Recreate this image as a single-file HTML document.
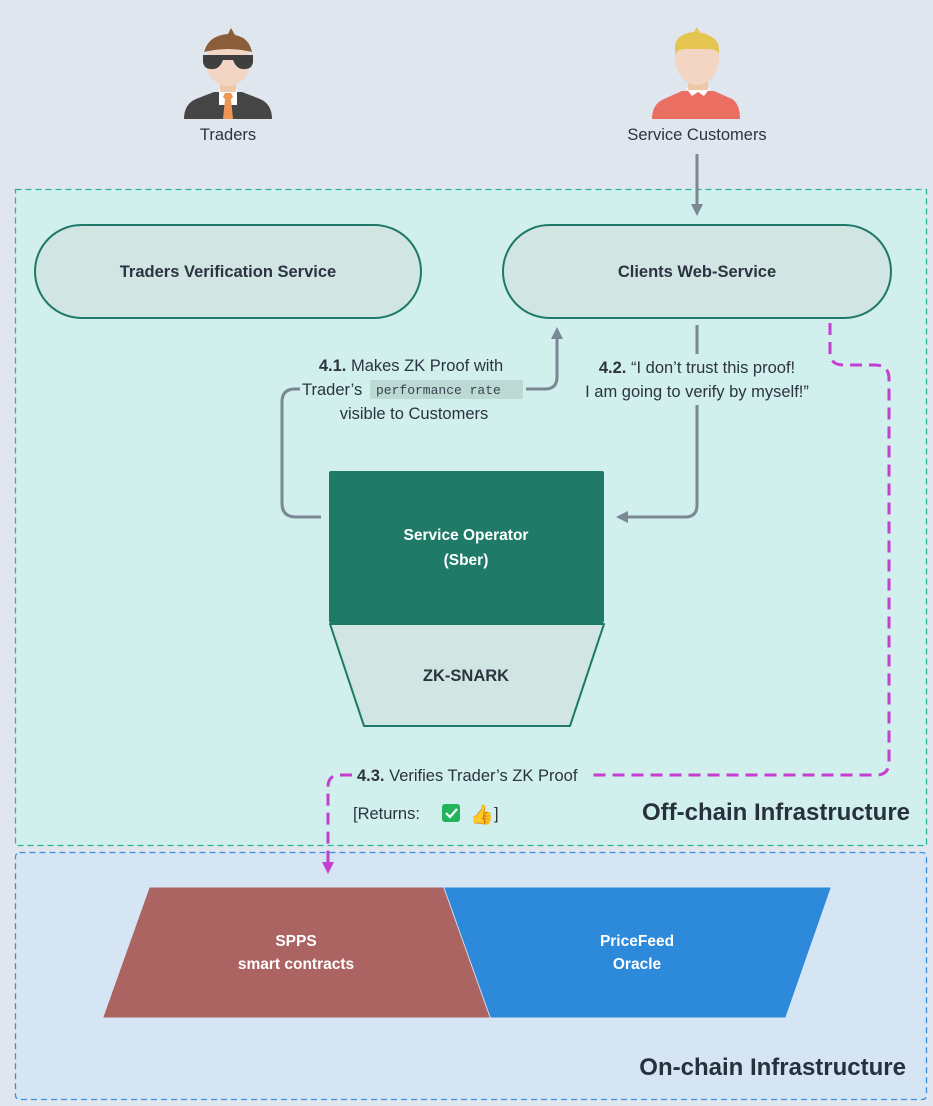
<!DOCTYPE html>
<html><head><meta charset="utf-8"><style>
html,body{margin:0;padding:0;background:#dfe6ee;}
svg{display:block;font-family:"Liberation Sans","DejaVu Sans",sans-serif;}
</style></head><body>
<svg width="933" height="1106" viewBox="0 0 933 1106" xmlns="http://www.w3.org/2000/svg">
<defs>
<marker id="ag" markerWidth="4" markerHeight="4" refX="2" refY="2" orient="auto" markerUnits="strokeWidth"><path d="M0,0 L4,2 L0,4 z" fill="#7a8794"/></marker>
<marker id="ap" markerWidth="4" markerHeight="4" refX="2" refY="2" orient="auto" markerUnits="strokeWidth"><path d="M0,0 L4,2 L0,4 z" fill="#c43fd1"/></marker>
</defs>
<rect width="933" height="1106" fill="#dfe6ee"/>
<rect x="15.5" y="189.5" width="911" height="656" fill="#d1efec" stroke="#2bb39a" stroke-width="1.3" stroke-dasharray="6,4"/>
<rect x="15.5" y="852.5" width="911" height="247" rx="4" fill="#d5e5f4" stroke="#3b8de0" stroke-width="1.3" stroke-dasharray="6,4"/>

<!-- Traders person -->
<g>
<path d="M184,119 Q184,104 196,99 L214,92 L242,92 L260,99 Q272,104 272,119 Z" fill="#454545"/>
<rect x="219" y="89" width="18" height="16" fill="#fff"/>
<path d="M225,93 L231,93 L233,97 L231,99 L233,119 L223,119 L225,99 L223,97 Z" fill="#ef9656"/>
<rect x="220" y="80" width="16" height="12" fill="#efc8a8"/>
<ellipse cx="228" cy="62" rx="22" ry="24" fill="#f2d6c3"/>
<path d="M203,62 Q203,36 228,34 L231,28 L235,35 Q253,38 253,62 L252,52 Q228,46 204,52 Z" fill="#8a5e3a"/>
<path d="M203,55 L253,55 L253,62 Q252,70 242,69 Q236,68 233,60 L223,60 Q220,68 214,69 Q204,70 203,62 Z" fill="#3f3f3f"/>
</g>
<text x="228" y="140" font-size="16.5" fill="#2b3440" text-anchor="middle">Traders</text>

<!-- Customer person -->
<g>
<path d="M652,119 Q652,104 664,99 L682,91 L714,91 L732,99 Q740,104 740,119 Z" fill="#ea6e62"/>
<path d="M686,88 L710,88 L704,96 L698,92 L692,96 Z" fill="#fff"/>
<rect x="688" y="80" width="20" height="10" fill="#efc8a8"/>
<ellipse cx="697" cy="58" rx="22" ry="27" fill="#f2d6c3"/>
<path d="M675,62 L675,46 Q676,34 694,32 L697,27 L700,33 Q718,36 719,48 L719,62 L719,54 Q717,49 708,49 L686,49 Q676,49 675,56 Z" fill="#e3c54f"/>
</g>
<text x="697" y="140" font-size="16.5" fill="#2b3440" text-anchor="middle">Service Customers</text>

<line x1="697" y1="154" x2="697" y2="210" stroke="#7a8794" stroke-width="3" marker-end="url(#ag)"/>

<rect x="35" y="225" width="386" height="93" rx="46.5" fill="#d1e5e2" stroke="#1e7a66" stroke-width="2"/>
<text x="228" y="277" font-size="16.5" font-weight="bold" fill="#2b3440" text-anchor="middle">Traders Verification Service</text>
<rect x="503" y="225" width="388" height="93" rx="46.5" fill="#d1e5e2" stroke="#1e7a66" stroke-width="2"/>
<text x="697" y="277" font-size="16.5" font-weight="bold" fill="#2b3440" text-anchor="middle">Clients Web-Service</text>

<path d="M321,517 L296,517 Q282,517 282,503 L282,402 Q282,389 295,389 L300,389" fill="none" stroke="#7a8794" stroke-width="3"/>
<path d="M526,389 L545,389 Q557,389 557,377 L557,333" fill="none" stroke="#7a8794" stroke-width="3" marker-end="url(#ag)"/>
<text x="411" y="371" font-size="16.5" fill="#2b3440" text-anchor="middle"><tspan font-weight="bold">4.1.</tspan> Makes ZK Proof with</text>
<text x="302" y="395" font-size="16.5" fill="#2b3440">Trader’s</text>
<rect x="370" y="380" width="153" height="19" rx="2" fill="#bcd9d4"/>
<text x="376" y="394" font-size="13" fill="#3a4450" font-family="Liberation Mono, monospace">performance rate</text>
<text x="414" y="419" font-size="16.5" fill="#2b3440" text-anchor="middle">visible to Customers</text>

<line x1="697" y1="325" x2="697" y2="354" stroke="#7a8794" stroke-width="3"/>
<path d="M697,405 L697,505 Q697,517 685,517 L622,517" fill="none" stroke="#7a8794" stroke-width="3" marker-end="url(#ag)"/>
<text x="697" y="373" font-size="16.5" fill="#2b3440" text-anchor="middle"><tspan font-weight="bold">4.2.</tspan> “I don’t trust this proof!</text>
<text x="697" y="397" font-size="16.5" fill="#2b3440" text-anchor="middle">I am going to verify by myself!”</text>

<rect x="329" y="471" width="275" height="152" rx="2" fill="#1f7a68"/>
<text x="466" y="540" font-size="15.5" font-weight="bold" fill="#fff" text-anchor="middle">Service Operator</text>
<text x="466" y="565" font-size="15.5" font-weight="bold" fill="#fff" text-anchor="middle">(Sber)</text>
<path d="M330,624 L604,624 L570,726 L364,726 Z" fill="#d1e5e2" stroke="#1e7a66" stroke-width="2" stroke-linejoin="round"/>
<text x="466" y="681" font-size="16.5" font-weight="bold" fill="#2b3440" text-anchor="middle">ZK-SNARK</text>

<path d="M830,323 L830,352 Q830,365 843,365 L875,365 Q889,365 889,379 L889,762 Q889,775 876,775 L590,775" fill="none" stroke="#c43fd1" stroke-width="3" stroke-dasharray="12,7"/>
<path d="M352,775 L340,775 Q328,775 328,787 L328,868" fill="none" stroke="#c43fd1" stroke-width="3" stroke-dasharray="12,7" marker-end="url(#ap)"/>
<text x="357" y="781" font-size="16.5" fill="#2b3440"><tspan font-weight="bold">4.3.</tspan> Verifies Trader’s ZK Proof</text>
<text x="353" y="819" font-size="16.5" fill="#2b3440">[Returns:</text>
<rect x="442" y="804" width="18" height="18" rx="3" fill="#22b45a"/>
<path d="M446,813 L450,817 L457,809" fill="none" stroke="#fff" stroke-width="2.2"/>
<text x="470" y="821" font-size="19" fill="#f4b63a">👍</text>
<text x="494" y="819" font-size="16.5" fill="#2b3440">]</text>

<text x="910" y="820" font-size="24" font-weight="bold" fill="#27313d" text-anchor="end">Off-chain Infrastructure</text>
<text x="906" y="1075" font-size="24" font-weight="bold" fill="#27313d" text-anchor="end">On-chain Infrastructure</text>

<path d="M150,888 L443,888 L489,1017 L104,1017 Z" fill="#ab6461" stroke="#ab6461" stroke-linejoin="round"/>
<text x="296" y="946" font-size="15.5" font-weight="bold" fill="#fff" text-anchor="middle">SPPS</text>
<text x="296" y="969" font-size="15.5" font-weight="bold" fill="#fff" text-anchor="middle">smart contracts</text>
<path d="M445,888 L830,888 L785,1017 L491,1017 Z" fill="#2d89da" stroke="#2d89da" stroke-linejoin="round"/>
<text x="637" y="946" font-size="15.5" font-weight="bold" fill="#fff" text-anchor="middle">PriceFeed</text>
<text x="637" y="969" font-size="15.5" font-weight="bold" fill="#fff" text-anchor="middle">Oracle</text>
</svg>
</body></html>
